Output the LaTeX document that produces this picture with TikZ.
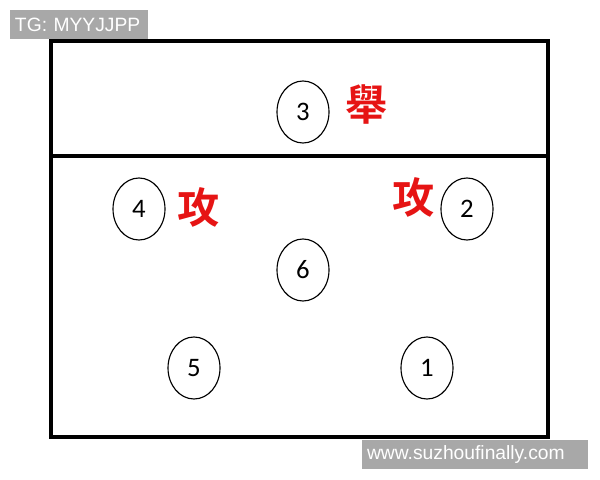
\documentclass[tikz,border=0pt]{standalone}
\usepackage{fontspec}
\setmainfont{Carlito}
\newfontfamily\tagfont{Liberation Sans}
\newfontfamily\cjkfont{Noto Sans CJK TC}[BoldFont=* Bold]
\usetikzlibrary{shapes}
\definecolor{tagback}{RGB}{168,168,168}
\definecolor{callred}{RGB}{230,20,20}
\newlength\pxu
\setlength\pxu{0.025cm}

\begin{document}
\begin{tikzpicture}
		[
		x=0.025cm,y=-0.025cm,
		player/.style={
		draw,
		ellipse,
		line width=0.8pt,
		minimum width=52\pxu,
		minimum height=62\pxu,
		inner sep=0pt,
		font=\fontsize{19}{19}\selectfont},
		call/.style={
		text=callred,
		inner sep=0pt,
		font=\cjkfont\bfseries\fontsize{30}{30}\selectfont},
		tag/.style={
		fill=tagback,
		text=white,
		inner sep=0pt,
		font=\tagfont\fontsize{13.7}{13.7}\selectfont}
		]
		\useasboundingbox (0,0) rectangle (600,480);
		% court
		\draw[line width=2.8pt] (51,41) rectangle (548,437);
		\draw[line width=2.2pt] (51,156) -- (548,156);
		% players
		\node[player] (p3) at (303,112) {3};
		\node[player] (p4) at (139,209) {4};
		\node[player] (p2) at (467,209) {2};
		\node[player] (p6) at (303,270) {6};
		\node[player] (p5) at (194,368) {5};
		\node[player] (p1) at (427,368) {1};
		% calls
		\node[call] (set) at (367,104) {舉};
		\node[call] (hit4) at (199,207) {攻};
		\node[call] (hit2) at (414,197) {攻};
		% tags
		\node[tag,minimum width=138\pxu,minimum height=29\pxu,text width=128\pxu,align=left] (tg) at (79,24.5) {TG: MYYJJPP};
		\node[tag,minimum width=226\pxu,minimum height=29\pxu,text width=216\pxu,align=left] (web) at (475,454.5) {www.suzhoufinally.com};
		\end{tikzpicture}
\end{document}
